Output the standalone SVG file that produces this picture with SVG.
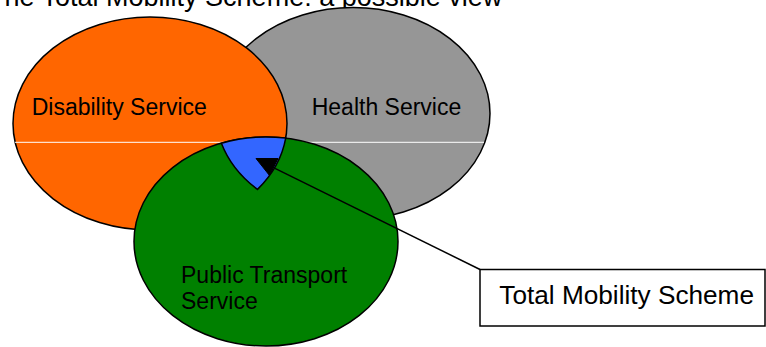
<svg xmlns="http://www.w3.org/2000/svg" width="766" height="347" viewBox="0 0 766 347">
  <style>
    .set { stroke: #000; stroke-width: 1.5; }
    .label { font-family: "Liberation Sans", Arial, sans-serif; font-size: 23px; fill: #000; }
    .title { font-family: "Liberation Sans", Arial, sans-serif; font-size: 27px; fill: #000; }
    .callout-text { font-family: "Liberation Sans", Arial, sans-serif; font-size: 26.2px; fill: #000; }
    .leader { stroke: #000; stroke-width: 1.5; fill: none; }
  </style>

  <!-- heading, partly cut off at the top edge -->
  <text class="title" x="-12" y="5.5">The Total Mobility Scheme: a possible view</text>

  <g id="health-service">
    <ellipse class="set" cx="353" cy="113.5" rx="137" ry="106" fill="#969696"/>
    <text class="label" x="311.7" y="115">Health Service</text>
  </g>

  <g id="disability-service">
    <ellipse class="set" cx="150" cy="123.5" rx="137" ry="106.5" fill="#FF6600"/>
    <text class="label" x="31.7" y="115">Disability Service</text>
  </g>

  <!-- thin white rule across the two upper sets -->
  <line x1="15" y1="142.3" x2="484" y2="142.3" stroke="#fff" stroke-width="1"/>

  <g id="public-transport-service">
    <ellipse class="set" cx="266" cy="241.5" rx="132" ry="104.5" fill="#008000"/>
    <text class="label" x="181" y="282.7">Public Transport</text>
    <text class="label" x="181" y="309.3">Service</text>
  </g>

  <!-- overlap of all three services -->
  <g id="total-mobility-overlap">
    <path class="set" fill="#3366FF"
          d="M221.4,143.2 A132,104.5 0 0 1 285.7,138.1 A137,106.5 0 0 1 257.5,189.4 A137,106 0 0 1 221.4,143.2 Z"/>
  </g>

  <g id="connectors">
    <path d="M256,158.5 L278,158.5 L269.5,175.5 Z" fill="#000" stroke="#000" stroke-width="1"/>
    <line class="leader" x1="275" y1="168.3" x2="480" y2="269.5"/>
  </g>

  <g id="total-mobility-scheme">
    <rect x="480" y="269.5" width="285" height="56.5" fill="#fff" stroke="#000" stroke-width="1.5"/>
    <text class="callout-text" x="499.3" y="304.3">Total Mobility Scheme</text>
  </g>
</svg>
